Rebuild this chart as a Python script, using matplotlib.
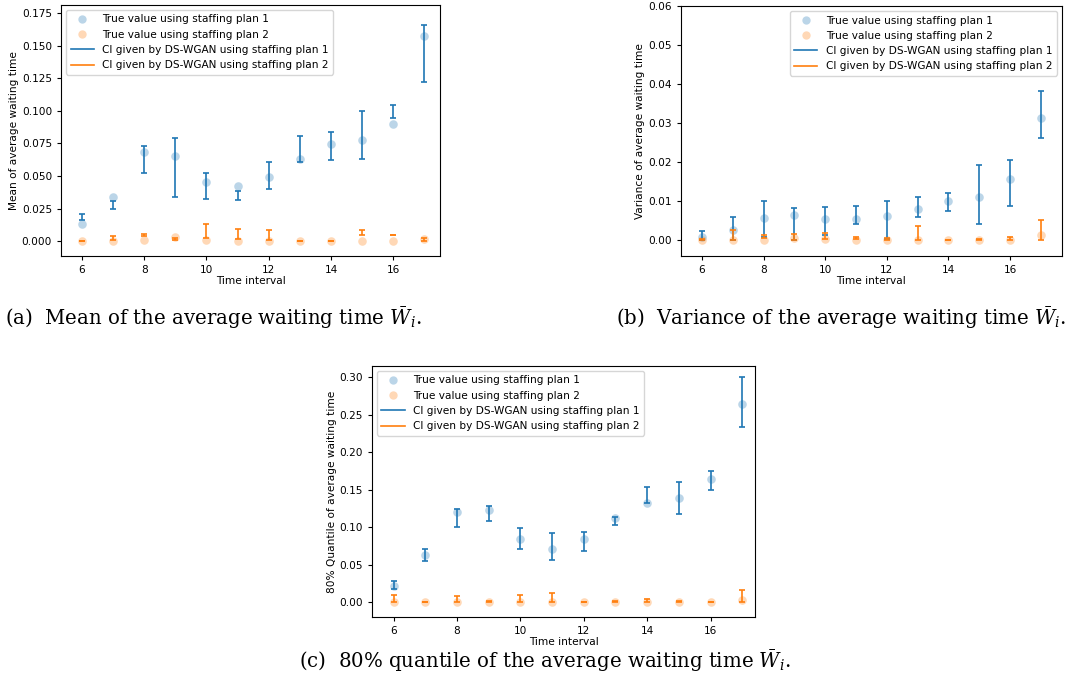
import numpy as np
import matplotlib
matplotlib.use("Agg")
import matplotlib.pyplot as plt
from matplotlib.lines import Line2D

plt.rcParams["mathtext.fontset"] = "dejavuserif"

intervals = np.arange(6, 18)

# (a) mean of average waiting time
mean_true_1 = [0.0129, 0.0340, 0.0683, 0.0652, 0.0454, 0.0420, 0.0492, 0.0629, 0.0745, 0.0774, 0.0899, 0.1574]
mean_true_2 = [0.0, 0.0, 0.0010, 0.0030, 0.0010, 0.0, 0.0, 0.0, 0.0, 0.0, 0.0, 0.0013]
mean_lo_1 = [0.0165, 0.0245, 0.0526, 0.0340, 0.0325, 0.0312, 0.0402, 0.0608, 0.0621, 0.0631, 0.0945, 0.1219]
mean_hi_1 = [0.0206, 0.0309, 0.0732, 0.0791, 0.0526, 0.0381, 0.0611, 0.0809, 0.0840, 0.0997, 0.1043, 0.1658]
mean_lo_2 = [0.0, 0.0005, 0.0041, 0.0010, 0.0020, 0.0015, 0.0010, 0.0, 0.0, 0.0046, 0.0045, 0.0]
mean_hi_2 = [0.0002, 0.0036, 0.0057, 0.0020, 0.0131, 0.0090, 0.0082, 0.0003, 0.0002, 0.0084, 0.0048, 0.0023]

# (b) variance of average waiting time
var_true_1 = [0.00085, 0.0027, 0.0058, 0.0066, 0.0054, 0.0054, 0.0063, 0.0081, 0.0100, 0.0112, 0.0158, 0.0312]
var_true_2 = [0.0, 0.0, 0.0002, 0.0005, 0.0004, 0.0002, 0.0002, 0.0, 0.0, 0.0001, 0.0001, 0.0014]
var_lo_1 = [0.0001, 0.0, 0.00085, 0.0002, 0.0015, 0.0041, 0.0003, 0.0060, 0.0074, 0.0043, 0.0088, 0.0263]
var_hi_1 = [0.0025, 0.0059, 0.0100, 0.0084, 0.0086, 0.0087, 0.0101, 0.0110, 0.0122, 0.0193, 0.0207, 0.0383]
var_lo_2 = [0.0, 0.0, 0.0007, 0.0002, 0.0003, 0.0003, 0.0002, 0.0, 0.0, 0.0001, 0.0002, 0.0]
var_hi_2 = [0.0004, 0.0026, 0.0014, 0.0017, 0.0019, 0.0008, 0.0005, 0.0037, 0.0001, 0.0004, 0.0009, 0.0051]

# (c) 80% quantile of average waiting time
q80_true_1 = [0.0213, 0.0635, 0.1198, 0.1234, 0.0843, 0.0715, 0.0848, 0.1127, 0.1327, 0.1394, 0.1638, 0.2636]
q80_true_2 = [0.0, 0.0, 0.0010, 0.0, 0.0, 0.0, 0.0, 0.0, 0.0010, 0.0, 0.0, 0.0027]
q80_lo_1 = [0.0173, 0.0546, 0.1003, 0.1083, 0.0706, 0.0568, 0.0683, 0.1025, 0.1327, 0.1172, 0.1500, 0.2330]
q80_hi_1 = [0.0280, 0.0710, 0.1243, 0.1283, 0.0994, 0.0928, 0.0936, 0.1136, 0.1531, 0.1598, 0.1749, 0.2996]
q80_lo_2 = [0.0, 0.0, 0.0, 0.0008, 0.0, 0.0, 0.0, 0.0008, 0.0, 0.0008, 0.0002, 0.0]
q80_hi_2 = [0.0093, 0.0003, 0.0084, 0.0012, 0.0093, 0.0120, 0.0003, 0.0012, 0.0040, 0.0012, 0.0006, 0.0164]

legend_labels = ["True value using staffing plan 1", "True value using staffing plan 2",
                 "CI given by DS-WGAN using staffing plan 1", "CI given by DS-WGAN using staffing plan 2"]
captions = [r"(a)  Mean of the average waiting time $\bar{W}_i$.",
            r"(b)  Variance of the average waiting time $\bar{W}_i$.",
            r"(c)  80% quantile of the average waiting time $\bar{W}_i$."]

fs = 7.6


def draw_panel(ax, true1, true2, lo1, hi1, lo2, hi2, ylabel, ylim, xlim, loc):
    for lo, hi, col in [(lo1, hi1, "C0"), (lo2, hi2, "C1")]:
        lo = np.array(lo)
        hi = np.array(hi)
        mid = (lo + hi) / 2
        ax.errorbar(intervals, mid, yerr=(hi - lo) / 2, fmt="none", ecolor=col,
                    elinewidth=1.2, capsize=2.2, capthick=1.2)
    ax.scatter(intervals, true1, s=38, color="C0", alpha=0.3, linewidths=0)
    ax.scatter(intervals, true2, s=38, color="C1", alpha=0.3, linewidths=0)
    handles = [Line2D([], [], ls="none", marker="o", ms=6, color="C0", alpha=0.3, mew=0),
               Line2D([], [], ls="none", marker="o", ms=6, color="C1", alpha=0.3, mew=0),
               Line2D([], [], color="C0", lw=1.2),
               Line2D([], [], color="C1", lw=1.2)]
    ax.legend(handles, legend_labels, loc=loc, fontsize=fs, handlelength=2.2)
    ax.set_xlim(*xlim)
    ax.set_ylim(*ylim)
    ax.set_xticks([6, 8, 10, 12, 14, 16])
    ax.tick_params(labelsize=fs, length=3, width=0.8)
    ax.set_xlabel("Time interval", fontsize=fs, labelpad=1)
    ax.set_ylabel(ylabel, fontsize=fs, labelpad=2)


fig = plt.figure(figsize=(10.86, 6.90), dpi=100)
ax_a = fig.add_axes([0.0562, 0.629, 0.349, 0.3638])
ax_b = fig.add_axes([0.627, 0.629, 0.3508, 0.3623])
ax_c = fig.add_axes([0.3425, 0.1058, 0.3527, 0.3638])

draw_panel(ax_a, mean_true_1, mean_true_2, mean_lo_1, mean_hi_1, mean_lo_2, mean_hi_2,
           "Mean of average waiting time", (-0.0115, 0.1815), (5.33, 17.5), "upper left")
ax_a.set_yticks(np.arange(0, 0.176, 0.025))
draw_panel(ax_b, var_true_1, var_true_2, var_lo_1, var_hi_1, var_lo_2, var_hi_2,
           "Variance of average waiting time", (-0.004, 0.06), (5.32, 17.68), "upper right")
draw_panel(ax_c, q80_true_1, q80_true_2, q80_lo_1, q80_hi_1, q80_lo_2, q80_hi_2,
           "80% Quantile of average waiting time", (-0.0195, 0.3146), (5.32, 17.4), "upper left")

cap_font = dict(family="DejaVu Serif", fontsize=14.2, va="center")
fig.text(0.005, 0.539, captions[0], ha="left", **cap_font)
fig.text(0.567, 0.539, captions[1], ha="left", **cap_font)
fig.text(0.5015, 0.042, captions[2], ha="center", **cap_font)

fig.savefig("out.png", dpi=100)
